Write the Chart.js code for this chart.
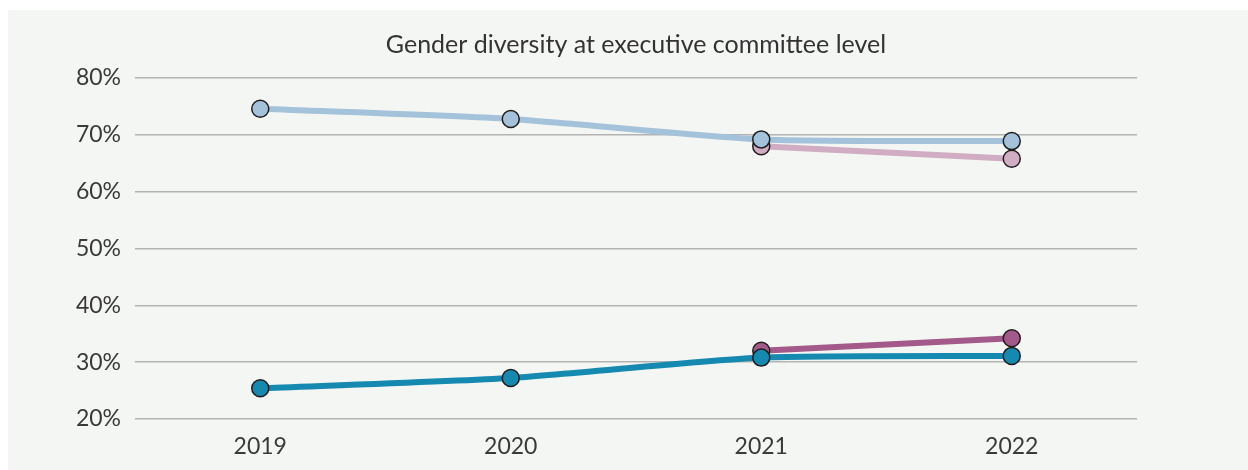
<!DOCTYPE html>
<html>
<head>
<meta charset="utf-8">
<script src="https://cdn.jsdelivr.net/npm/chart.js@4"></script>
<style>
  body { margin: 0; background: #ffffff; }
  #panel {
    position: absolute; left: 8px; top: 10px;
    width: 1240px; height: 460px;
    background: #f4f6f3;
  }
</style>
</head>
<body>
<div id="panel"><canvas id="diversityChart" width="1240" height="460"></canvas></div>
<script>
const years = ['2019', '2020', '2021', '2022'];
const menShare = [74.6, 72.8, 69.2, 68.9];
const womenShare = [25.4, 27.2, 30.8, 31.1];
const menShareAlt = [null, null, 68.0, 65.8];
const womenShareAlt = [null, null, 32.0, 34.2];
const yTicks = [20, 30, 40, 50, 60, 70, 80];

const tickFont = { family: 'Lato, "Open Sans", sans-serif', size: 23 };
const titleFont = { family: 'Lato, "Open Sans", sans-serif', size: 25, weight: 'normal' };

function series(data, color, order) {
    return {
        data,
        borderColor: color,
        backgroundColor: color,
        borderWidth: 6,
        pointRadius: 8.5,
        pointBorderWidth: 1.5,
        pointBorderColor: '#1e1e1e',
        pointBackgroundColor: color,
        tension: 0.2,
        order
    };
}

new Chart(document.getElementById('diversityChart'), {
    type: 'line',
    data: {
        labels: years,
        datasets: [
            series(menShareAlt, '#d1adc4', 4),
            series(menShare, '#a4c3db', 3),
            series(womenShareAlt, '#a35a8a', 2),
            series(womenShare, '#1589b0', 1)
        ]
    },
    options: {
        responsive: false,
        animation: false,
        layout: { padding: { left: 0, right: 111, top: 0, bottom: 0 } },
        plugins: {
            legend: { display: false },
            tooltip: { enabled: false },
            title: {
                display: true,
                text: 'Gender diversity at executive committee level',
                color: '#333333',
                font: titleFont,
                fullSize: false,
                padding: { top: 20, bottom: 18 }
            }
        },
        scales: {
            x: {
                offset: true,
                grid: { display: false },
                border: { display: false },
                ticks: { color: '#3a3a3a', font: tickFont, padding: 6 },
                afterFit(scale) { scale.height = 51; }
            },
            y: {
                min: 20,
                max: 80,
                afterBuildTicks(scale) { scale.ticks = yTicks.map(v => ({ value: v })); },
                grid: { color: '#b3b3b3', lineWidth: 1.5, drawTicks: false },
                border: { display: false },
                ticks: { color: '#3a3a3a', font: tickFont, padding: 14, callback: v => v + '%' },
                afterFit(scale) { scale.width = 127; }
            }
        }
    }
});
</script>
</body>
</html>
